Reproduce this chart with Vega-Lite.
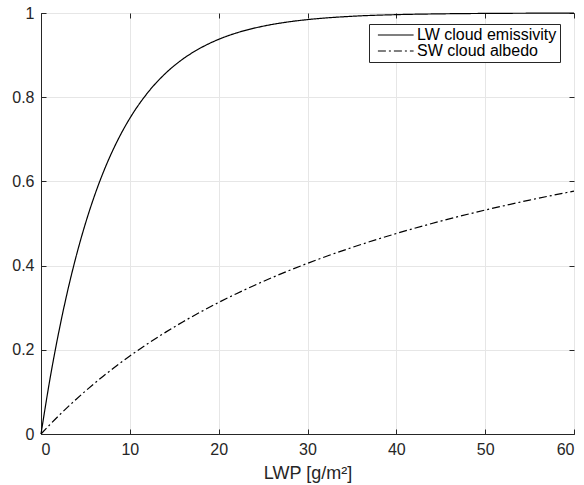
{
  "$schema": "https://vega.github.io/schema/vega-lite/v6.json",
  "width": 533,
  "height": 421,
  "autosize": "none",
  "padding": {"left": 41, "top": 13, "right": 10, "bottom": 51},
  "background": "white",
  "config": {
    "font": "Liberation Sans",
    "view": {"stroke": "#262626", "strokeWidth": 1},
    "axis": {
      "labelFont": "Liberation Sans",
      "titleFont": "Liberation Sans",
      "labelFontSize": 16,
      "titleFontSize": 18,
      "titleFontWeight": "normal",
      "labelColor": "#262626",
      "titleColor": "#262626",
      "domainColor": "#262626",
      "tickColor": "#262626",
      "gridColor": "#e6e6e6",
      "gridOpacity": 1
    }
  },
  "data": {
    "values": [
      {"lwp": 0, "value": 0, "series": "LW cloud emissivity"},
      {"lwp": 1, "value": 0.1294, "series": "LW cloud emissivity"},
      {"lwp": 2, "value": 0.2421, "series": "LW cloud emissivity"},
      {"lwp": 3, "value": 0.3402, "series": "LW cloud emissivity"},
      {"lwp": 4, "value": 0.4256, "series": "LW cloud emissivity"},
      {"lwp": 5, "value": 0.4999, "series": "LW cloud emissivity"},
      {"lwp": 6, "value": 0.5646, "series": "LW cloud emissivity"},
      {"lwp": 7, "value": 0.621, "series": "LW cloud emissivity"},
      {"lwp": 8, "value": 0.67, "series": "LW cloud emissivity"},
      {"lwp": 9, "value": 0.7127, "series": "LW cloud emissivity"},
      {"lwp": 10, "value": 0.7499, "series": "LW cloud emissivity"},
      {"lwp": 12, "value": 0.8104, "series": "LW cloud emissivity"},
      {"lwp": 14, "value": 0.8563, "series": "LW cloud emissivity"},
      {"lwp": 16, "value": 0.8911, "series": "LW cloud emissivity"},
      {"lwp": 18, "value": 0.9174, "series": "LW cloud emissivity"},
      {"lwp": 20, "value": 0.9374, "series": "LW cloud emissivity"},
      {"lwp": 22, "value": 0.9526, "series": "LW cloud emissivity"},
      {"lwp": 24, "value": 0.964, "series": "LW cloud emissivity"},
      {"lwp": 26, "value": 0.9727, "series": "LW cloud emissivity"},
      {"lwp": 28, "value": 0.9793, "series": "LW cloud emissivity"},
      {"lwp": 30, "value": 0.9843, "series": "LW cloud emissivity"},
      {"lwp": 35, "value": 0.9922, "series": "LW cloud emissivity"},
      {"lwp": 40, "value": 0.9961, "series": "LW cloud emissivity"},
      {"lwp": 45, "value": 0.998, "series": "LW cloud emissivity"},
      {"lwp": 50, "value": 0.999, "series": "LW cloud emissivity"},
      {"lwp": 55, "value": 0.9995, "series": "LW cloud emissivity"},
      {"lwp": 60, "value": 0.9998, "series": "LW cloud emissivity"},
      {"lwp": 0, "value": 0, "series": "SW cloud albedo"},
      {"lwp": 1, "value": 0.0222, "series": "SW cloud albedo"},
      {"lwp": 2, "value": 0.0435, "series": "SW cloud albedo"},
      {"lwp": 3, "value": 0.0638, "series": "SW cloud albedo"},
      {"lwp": 4, "value": 0.0833, "series": "SW cloud albedo"},
      {"lwp": 5, "value": 0.102, "series": "SW cloud albedo"},
      {"lwp": 6, "value": 0.12, "series": "SW cloud albedo"},
      {"lwp": 7, "value": 0.1373, "series": "SW cloud albedo"},
      {"lwp": 8, "value": 0.1538, "series": "SW cloud albedo"},
      {"lwp": 9, "value": 0.1698, "series": "SW cloud albedo"},
      {"lwp": 10, "value": 0.1852, "series": "SW cloud albedo"},
      {"lwp": 12, "value": 0.2143, "series": "SW cloud albedo"},
      {"lwp": 14, "value": 0.2414, "series": "SW cloud albedo"},
      {"lwp": 16, "value": 0.2667, "series": "SW cloud albedo"},
      {"lwp": 18, "value": 0.2903, "series": "SW cloud albedo"},
      {"lwp": 20, "value": 0.3125, "series": "SW cloud albedo"},
      {"lwp": 22, "value": 0.3333, "series": "SW cloud albedo"},
      {"lwp": 24, "value": 0.3529, "series": "SW cloud albedo"},
      {"lwp": 26, "value": 0.3714, "series": "SW cloud albedo"},
      {"lwp": 28, "value": 0.3889, "series": "SW cloud albedo"},
      {"lwp": 30, "value": 0.4054, "series": "SW cloud albedo"},
      {"lwp": 35, "value": 0.443, "series": "SW cloud albedo"},
      {"lwp": 40, "value": 0.4762, "series": "SW cloud albedo"},
      {"lwp": 45, "value": 0.5056, "series": "SW cloud albedo"},
      {"lwp": 50, "value": 0.5319, "series": "SW cloud albedo"},
      {"lwp": 55, "value": 0.5556, "series": "SW cloud albedo"},
      {"lwp": 60, "value": 0.5769, "series": "SW cloud albedo"}
    ]
  },
  "layer": [
    {
      "mark": {"type": "line", "color": "black", "strokeWidth": 1.2, "interpolate": "monotone"},
      "encoding": {
        "x": {
          "field": "lwp", "type": "quantitative",
          "scale": {"domain": [0, 60], "nice": false},
          "axis": {"title": "LWP [g/m²]", "values": [0, 10, 20, 30, 40, 50, 60], "tickSize": -5, "labelPadding": 12, "titlePadding": 7, "format": "d", "labelFontSize": 16, "titleFontSize": 18}
        },
        "y": {
          "field": "value", "type": "quantitative",
          "scale": {"domain": [0, 1], "nice": false},
          "axis": {"title": null, "values": [0, 0.2, 0.4, 0.6, 0.8, 1], "tickSize": -5, "labelPadding": 12, "format": "~g", "labelFontSize": 16}
        },
        "strokeDash": {
          "field": "series", "type": "nominal",
          "scale": {"domain": ["LW cloud emissivity", "SW cloud albedo"], "range": [[1, 0], [8, 3, 2, 3]]},
          "legend": {
            "title": null,
            "orient": "none",
            "legendX": 328,
            "legendY": 11,
            "symbolType": "M-0.3,0H4.8",
            "symbolSize": 196,
            "symbolStrokeColor": "black",
            "symbolStrokeWidth": 1.2,
            "symbolFillColor": "transparent",
            "labelFontSize": 16,
            "labelFont": "Liberation Sans",
            "labelColor": "black",
            "rowPadding": 0,
            "labelOffset": 29,
            "strokeColor": "#262626",
            "fillColor": "white",
            "padding": 3,
            "cornerRadius": 0
          }
        }
      }
    },
    {
      "mark": {"type": "line", "opacity": 0},
      "encoding": {
        "x": {
          "field": "lwp", "type": "quantitative",
          "scale": {"domain": [0, 60], "nice": false},
          "axis": {"orient": "top", "title": null, "labels": false, "grid": false, "domain": false, "values": [0, 10, 20, 30, 40, 50, 60], "tickSize": -5}
        },
        "y": {
          "field": "value", "type": "quantitative",
          "scale": {"domain": [0, 1], "nice": false},
          "axis": {"orient": "right", "title": null, "labels": false, "grid": false, "domain": false, "values": [0, 0.2, 0.4, 0.6, 0.8, 1], "tickSize": -5}
        },
        "detail": {"field": "series"}
      }
    }
  ],
  "resolve": {"axis": {"x": "independent", "y": "independent"}}
}
